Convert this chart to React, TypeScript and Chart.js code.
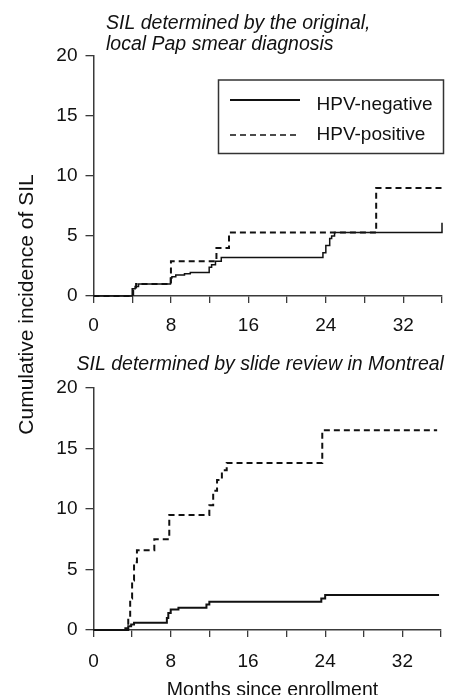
import React, { useEffect, useRef } from "react";
import { Chart, registerables } from "chart.js";

Chart.register(...registerables);

const FONT = "'Liberation Sans', Arial, Helvetica, sans-serif";
const INK = "#111111";
const AXIS = "#3a3a3a";

// ---- text ----
const seriesNames = ["HPV-negative", "HPV-positive"];
const topTitle = ["SIL determined by the original,", "local Pap smear diagnosis"];
const bottomTitle = "SIL determined by slide review in Montreal";
const yAxisTitle = "Cumulative incidence of SIL";
const xAxisTitle = "Months since enrollment";
const xTickLabels = [0, 8, 16, 24, 32];
const yTickLabels = [0, 5, 10, 15, 20];

// ---- data: SIL by original local Pap smear diagnosis ----
const localNegMonths = [0, 4.0, 4.3, 4.65, 7.95, 8.1, 8.5, 9.4, 10.0, 11.95, 12.2, 12.6, 13.2, 23.7, 24.0, 24.4, 24.6, 24.9, 36];
const localNegPct = [0, 0.6, 0.8, 1.0, 1.5, 1.6, 1.75, 1.85, 1.95, 2.4, 2.6, 2.9, 3.2, 3.6, 4.2, 4.8, 5.0, 5.3, 6.1];
const localPosMonths = [0, 4.1, 4.4, 8.0, 12.7, 14.0, 29.2, 36];
const localPosPct = [0, 0.5, 1.0, 2.9, 4.0, 5.3, 9.0, 9.0];

// ---- data: SIL by slide review in Montreal ----
const reviewNegMonths = [0, 3.3, 3.6, 3.9, 4.2, 7.6, 7.75, 8.0, 8.8, 11.7, 12.0, 23.6, 24.0, 35.8];
const reviewNegPct = [0, 0.15, 0.3, 0.45, 0.6, 1.0, 1.4, 1.7, 1.84, 2.1, 2.34, 2.6, 2.9, 2.9];
const reviewPosMonths = [0, 3.6, 3.8, 4.0, 4.2, 4.5, 6.3, 7.85, 12.0, 12.4, 12.8, 13.3, 13.8, 23.7, 35.6];
const reviewPosPct = [0, 1.0, 2.6, 4.1, 5.6, 6.6, 7.5, 9.5, 10.3, 11.5, 12.4, 13.2, 13.8, 16.5, 16.5];

const W = 461;
const H = 695;
const Y_W = 60;
const X_H = 45;

const toPoints = (xs: number[], ys: number[]) => xs.map((x, i) => ({ x, y: ys[i] }));

type PanelSpec = {
  negX: number[];
  negY: number[];
  posX: number[];
  posY: number[];
  left: number;
  right: number;
  top: number;
  bottom: number;
  xPad: number;
  negWidth: number;
  draw: (ctx: CanvasRenderingContext2D) => void;
};

function makeChart(canvas: HTMLCanvasElement, p: PanelSpec) {
  const tickFont = { family: FONT, size: 19 };
  return new Chart(canvas, {
    type: "line",
    data: {
      datasets: [
        {
          label: seriesNames[0],
          data: toPoints(p.negX, p.negY),
          borderColor: INK,
          borderWidth: p.negWidth,
          stepped: "before",
          pointRadius: 0,
          fill: false,
          clip: 6,
        },
        {
          label: seriesNames[1],
          data: toPoints(p.posX, p.posY),
          borderColor: INK,
          borderWidth: 2,
          borderDash: [6, 4],
          stepped: "before",
          pointRadius: 0,
          fill: false,
          clip: 6,
        },
      ],
    },
    options: {
      responsive: false,
      animation: false,
      events: [],
      layout: {
        padding: {
          left: p.left - Y_W,
          top: p.top,
          right: W - p.right,
          bottom: H - p.bottom - X_H,
        },
      },
      scales: {
        x: {
          type: "linear",
          min: 0,
          max: 36,
          afterFit: (s: any) => {
            s.height = X_H;
          },
          ticks: {
            stepSize: 4,
            autoSkip: false,
            maxRotation: 0,
            padding: p.xPad,
            color: INK,
            font: tickFont,
            callback: (v: any) => (xTickLabels.includes(Number(v)) ? String(v) : ""),
          },
          grid: { drawOnChartArea: false, drawTicks: true, tickLength: 7, color: AXIS, lineWidth: 1.3 },
          border: { display: true, color: AXIS, width: 1.5 },
        },
        y: {
          type: "linear",
          min: 0,
          max: 20,
          afterFit: (s: any) => {
            s.width = Y_W;
          },
          ticks: {
            stepSize: 5,
            padding: 8,
            color: INK,
            font: tickFont,
            callback: (v: any) => (yTickLabels.includes(Number(v)) ? String(v) : ""),
          },
          grid: { drawOnChartArea: false, drawTicks: true, tickLength: 8, color: AXIS, lineWidth: 1.3 },
          border: { display: true, color: AXIS, width: 1.5 },
        },
      },
      plugins: {
        legend: { display: false },
        tooltip: { enabled: false },
        title: { display: false },
      },
    } as any,
    plugins: [
      {
        id: "panelText",
        afterDraw: (chart: any) => {
          const ctx = chart.ctx as CanvasRenderingContext2D;
          ctx.save();
          p.draw(ctx);
          ctx.restore();
        },
      },
    ],
  });
}

function drawTop(ctx: CanvasRenderingContext2D) {
  ctx.fillStyle = INK;
  ctx.textBaseline = "alphabetic";
  ctx.textAlign = "left";
  ctx.font = `italic 19.5px ${FONT}`;
  ctx.fillText(topTitle[0], 106, 29);
  ctx.fillText(topTitle[1], 106, 50);

  // legend box
  ctx.strokeStyle = "#333333";
  ctx.lineWidth = 1.5;
  ctx.setLineDash([]);
  ctx.strokeRect(218.5, 80, 225, 73.5);
  // legend samples
  ctx.strokeStyle = INK;
  ctx.lineWidth = 2;
  ctx.beginPath();
  ctx.moveTo(230, 100);
  ctx.lineTo(300, 100);
  ctx.stroke();
  ctx.lineWidth = 1.3;
  ctx.setLineDash([6, 4]);
  ctx.beginPath();
  ctx.moveTo(230, 135);
  ctx.lineTo(300, 135);
  ctx.stroke();
  ctx.setLineDash([]);
  ctx.font = `19px ${FONT}`;
  ctx.fillText(seriesNames[0], 316.5, 110);
  ctx.fillText(seriesNames[1], 316.5, 140);

  // shared y-axis title
  ctx.save();
  ctx.translate(33, 304.5);
  ctx.rotate(-Math.PI / 2);
  ctx.textAlign = "center";
  ctx.font = `21px ${FONT}`;
  ctx.fillText(yAxisTitle, 0, 0);
  ctx.restore();
}

function drawBottom(ctx: CanvasRenderingContext2D) {
  ctx.fillStyle = INK;
  ctx.textBaseline = "alphabetic";
  ctx.textAlign = "left";
  ctx.font = `italic 19.5px ${FONT}`;
  ctx.fillText(bottomTitle, 76.5, 370);
  ctx.textAlign = "center";
  ctx.font = `19.5px ${FONT}`;
  ctx.fillText(xAxisTitle, 272.5, 695.5);
}

export default function App() {
  const topRef = useRef<HTMLCanvasElement | null>(null);
  const bottomRef = useRef<HTMLCanvasElement | null>(null);

  useEffect(() => {
    const charts: Chart[] = [];
    if (topRef.current) {
      charts.push(
        makeChart(topRef.current, {
          negX: localNegMonths,
          negY: localNegPct,
          posX: localPosMonths,
          posY: localPosPct,
          left: 93.5,
          right: 442,
          top: 56,
          bottom: 296,
          xPad: 11,
          negWidth: 1.5,
          draw: drawTop,
        })
      );
    }
    if (bottomRef.current) {
      charts.push(
        makeChart(bottomRef.current, {
          negX: reviewNegMonths,
          negY: reviewNegPct,
          posX: reviewPosMonths,
          posY: reviewPosPct,
          left: 93.5,
          right: 441,
          top: 388,
          bottom: 630,
          xPad: 13.5,
          negWidth: 2,
          draw: drawBottom,
        })
      );
    }
    return () => charts.forEach((c) => c.destroy());
  }, []);

  const canvasStyle: React.CSSProperties = { position: "absolute", left: 0, top: 0, width: W, height: H };
  return (
    <div style={{ position: "absolute", left: 0, top: 0, width: W, height: H, background: "#ffffff" }}>
      <canvas ref={topRef} width={W} height={H} style={canvasStyle} />
      <canvas ref={bottomRef} width={W} height={H} style={canvasStyle} />
    </div>
  );
}
